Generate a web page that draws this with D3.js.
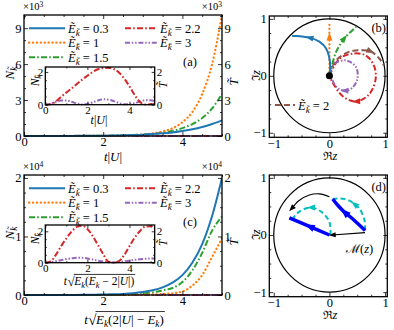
<!DOCTYPE html>
<html><head><meta charset="utf-8">
<script src="https://cdn.jsdelivr.net/npm/d3@7"></script>
<style>body{margin:0;background:#fff} svg{display:block} text{font-family:"Liberation Serif",serif;fill:#000}</style>
</head><body><svg id="fig" width="394" height="330"></svg>
<script>
// time grids
const tMain = [0,0.25,0.5,0.75,1,1.25,1.5,1.75,2,2.25,2.5,2.75,3,3.25,3.5,3.75,4,4.25,4.5,4.75,5]
const tIn = [0,0.25,0.5,0.75,1,1.25,1.5,1.75,2,2.25,2.5,2.75,3,3.25,3.5,3.75,4,4.25,4.5,4.75,5,5.25]

// (a) N vs t|U|
const blueA = [0,1,3,5,7,10,14,20,28,40,55,80,110,160,220,300,420,560,750,1000,1300]
const orangeA = [0,0,0,0,1,2,4,7,13,22,39,68,120,210,370,650,1150,2000,3500,6000,10100]
const greenA = [0,0,1,2,4,6,9,14,21,33,50,78,120,180,280,430,660,1000,1500,2300,3500]
const redInA = [0,0.02,0.2,0.48,0.74,0.99,1.26,1.53,1.77,2.0,2.16,2.24,2.25,2.18,1.97,1.6,1.12,0.59,0.16,0.01,0.02,0.06]
const purpleInA = [0,0.06,0.18,0.26,0.26,0.18,0.07,0.01,0.04,0.14,0.26,0.33,0.31,0.22,0.1,0.02,0.02,0.09,0.2,0.27,0.27,0.2]

// (c) N vs t sqrt(E(2|U|-E))
const blueC = [0,1,2,5,10,15,25,40,70,110,180,300,500,800,1300,2100,3400,5500,8700,13500,20000]
const orangeC = [0,0,0,0,0,0,1,2,4,8,15,28,50,90,160,300,600,1600,3400,6500,9700]
const greenC = [0,0,0,1,2,4,8,14,25,45,80,140,250,450,800,1200,2200,4200,7200,11000,13400]
const redInC = [0,0.08,0.5,1.05,1.55,1.98,2.28,2.35,2.15,1.7,1.14,0.55,0.06,0,0.1,0.48,1.05,1.6,2.02,2.3,2.32,2.1]
const purpleInC = [0,0.03,0.09,0.16,0.23,0.28,0.31,0.31,0.27,0.2,0.13,0.07,0.03,0.02,0.04,0.08,0.13,0.18,0.22,0.25,0.27,0.27]

const legendVals = ['0.3', '1', '1.5', '2.2', '3']

// ticks
const tTicks = [0, 2, 4], tMinor = [0.5,1,1.5,2.5,3,3.5,4.5,5]
const aYTicks = [0,3000,6000,9000], aYMinor = [1000,2000,4000,5000,7000,8000,10000]
const cYTicks = [0,10000,20000], cYMinor = [2500,5000,7500,12500,15000,17500]
const inXTicks = [0,2,4], inXMinor = [1,3,5]
const inYTicks = [0,2], inYMinor = [0.5,1,1.5]
const zTicks = [-1,0,1], zMinor = [-0.75,-0.5,-0.25,0.25,0.5,0.75]

// (b) trajectories of z
const bBlue = [[0,0],[0.01,0.24],[-0.06,0.48],[-0.18,0.6],[-0.36,0.67],[-0.6,0.7],[-0.67,0.7]]
const bOrange = [[0,0],[0,0.35],[0,0.69],[0,0.92]]
const bGreen = [[0,0],[0.05,0.2],[0.12,0.42],[0.2,0.56],[0.27,0.66],[0.36,0.75],[0.48,0.86]]
const bBrown = [[0,0],[0.05,0.15],[0.15,0.3],[0.35,0.42],[0.55,0.45],[0.74,0.43],[0.9,0.3],[0.98,0.18]]
const bRed = [[0,0],[0.18,0.3],[0.42,0.39],[0.65,0.36],[0.8,0.18],[0.83,-0.06],[0.71,-0.33],[0.48,-0.45],[0.24,-0.36],[0.06,-0.12],[0,0]]
const bPurple = [[0,0],[0.09,0.21],[0.3,0.27],[0.48,0.15],[0.5,-0.06],[0.4,-0.22],[0.27,-0.26],[0.14,-0.21],[0.03,-0.03]]

// (d)
const dBlue1 = [[0,0],[-0.36,0.15],[-0.72,0.3]]
const dBlue2 = [[0.64,0.08],[0.42,0.28],[0.27,0.4],[0.15,0.52],[0.06,0.63]]
const dCyan1 = [[0.02,0],[0,0.23],[-0.15,0.41],[-0.33,0.48],[-0.54,0.41],[-0.68,0.26]]
const dCyan2 = [[0.64,0.08],[0.63,0.26],[0.54,0.46],[0.45,0.54],[0.36,0.6],[0.2,0.64],[0.06,0.63]]
const dBlackCurve = [[0,0.67],[-0.18,0.72],[-0.36,0.7],[-0.55,0.6],[-0.68,0.46]]
const dBlackLine = [[0.64,0.04],[0.05,0]]

const C = {blue:'#1f77b4', orange:'#ff7f0e', green:'#2ca02c', red:'#d62728', purple:'#9467bd', brown:'#8c564b'}
const DASH = {solid:null, dot:'0.3,3.6', dashdot:'6,2.2,1.6,2.2', dashdotdot:'5,1.8,1.5,1.8,1.5,1.8', dashed:'6,3'}
const styles = [
  {c:C.blue, d:'solid'}, {c:C.orange, d:'dot'}, {c:C.green, d:'dashdot'},
  {c:C.red, d:'dashdot'}, {c:C.purple, d:'dashdotdot'}
]

const svg = d3.select('#fig')
svg.append('rect').attr('width', 394).attr('height', 330).attr('fill', '#fff')
let clipN = 0

function mtext(sel, parts, fs) {
  let shift = 0
  parts.forEach(([s, st]) => {
    const sp = sel.append('tspan').text(s)
    const want = st.includes('s') ? fs * 0.25 : st.includes('^') ? -fs * 0.33 : 0
    sp.attr('dy', want - shift); shift = want
    if (st.includes('i')) sp.attr('font-style', 'italic')
    if (st.includes('s') || st.includes('^')) sp.attr('font-size', fs * 0.72)
    if (st.includes('D')) sp.attr('font-family', 'DejaVu Serif').attr('font-size', fs * 0.92)
  })
  return sel
}

function axisSet(g, x, y, o) {
  const [xl, xr] = x.range(), [yb, yt] = y.range()
  const add = (mk, sc, vals, len, fmt, tr, pad) => {
    const a = g.append('g').attr('transform', tr)
      .call(mk(sc).tickValues(vals).tickSize(-len).tickPadding(pad).tickFormat(fmt || (() => '')))
    a.select('.domain').remove()
    a.selectAll('line').attr('stroke', '#000').attr('stroke-width', 0.8)
    a.selectAll('text').attr('fill', '#000').attr('font-size', o.fs).attr('font-family', 'Liberation Serif, serif')
  }
  add(d3.axisBottom, x, o.xMaj, o.L, o.xFmt, `translate(0,${yb})`, o.pad - 1)
  add(d3.axisBottom, x, o.xMin, o.L / 2, null, `translate(0,${yb})`, 0)
  add(d3.axisTop, x, o.xMaj, o.L, null, `translate(0,${yt})`, 0)
  add(d3.axisTop, x, o.xMin, o.L / 2, null, `translate(0,${yt})`, 0)
  add(d3.axisLeft, y, o.yMaj, o.L, o.yFmt, `translate(${xl},0)`, o.pad)
  add(d3.axisLeft, y, o.yMin, o.L / 2, null, `translate(${xl},0)`, 0)
  add(d3.axisRight, y, o.yMaj, o.L, o.right ? o.yFmt : null, `translate(${xr},0)`, o.pad)
  add(d3.axisRight, y, o.yMin, o.L / 2, null, `translate(${xr},0)`, 0)
  g.append('rect').attr('x', xl).attr('y', yt).attr('width', xr - xl).attr('height', yb - yt)
    .attr('fill', 'none').attr('stroke', '#000').attr('stroke-width', 1.3)
}

function clipFor(x, y) {
  const id = 'clip' + (clipN++)
  const [xl, xr] = x.range(), [yb, yt] = y.range()
  svg.append('clipPath').attr('id', id).append('rect')
    .attr('x', xl).attr('y', yt - 1).attr('width', xr - xl).attr('height', yb - yt + 2)
  return id
}

function series(g, x, y, xs, ys, st, lw, clip) {
  g.append('path').datum(xs.map((t, i) => [t, ys[i]]))
    .attr('d', d3.line().x(d => x(d[0])).y(d => y(d[1])).curve(d3.curveMonotoneX))
    .attr('fill', 'none').attr('stroke', st.c).attr('stroke-width', lw)
    .attr('stroke-dasharray', DASH[st.d]).attr('stroke-linecap', st.d === 'dot' ? 'round' : 'butt')
    .attr('clip-path', `url(#${clip})`)
}

function eLabel(g, x, y, val, fs) {
  mtext(g.append('text').attr('x', x).attr('y', y).attr('font-size', fs),
    [['Ẽ', 'i'], ['k\u0303', 'is'], [' = ' + val, '']], fs)
}

function rotLabel(g, x, y, parts, fs, ang) {
  mtext(g.append('text').attr('transform', `translate(${x},${y}) rotate(${ang || -90})`)
    .attr('text-anchor', 'middle').attr('font-size', fs), parts, fs)
}

function sqrtLabel(g, cx, y, rad, fs) {
  const grp = g.append('g')
  const t1 = mtext(grp.append('text').attr('x', 0).attr('y', y).attr('font-size', fs), [['t', 'i']], fs)
  let w = t1.node().getComputedTextLength() + 0.5
  const t2 = grp.append('text').attr('x', w).attr('y', y + 1).attr('font-size', fs * 1.15).attr('font-family', 'DejaVu Serif').text('√')
  w += t2.node().getComputedTextLength() - 0.5
  const t3 = mtext(grp.append('text').attr('x', w).attr('y', y).attr('font-size', fs), rad, fs)
  const w3 = t3.node().getComputedTextLength()
  grp.append('line').attr('x1', w - 0.5).attr('x2', w + w3 + 1).attr('y1', y - fs * 0.92).attr('y2', y - fs * 0.92)
    .attr('stroke', '#000').attr('stroke-width', 0.8)
  grp.attr('transform', `translate(${cx - (w + w3) / 2},0)`)
}

function timePanel(o) {
  const g = svg.append('g')
  const x = d3.scaleLinear().domain([0, 5]).range([24, 222])
  const y = d3.scaleLinear().domain([0, o.ymax]).range([o.yb, o.yt])
  const clip = clipFor(x, y)
  // red / purple stay near zero on this scale
  series(g, x, y, tIn, o.redIn, styles[3], 2, clip)
  series(g, x, y, tIn, o.purpleIn, styles[4], 2, clip)
  series(g, x, y, tMain, o.green, styles[2], 2, clip)
  series(g, x, y, tMain, o.orange, styles[1], 2.2, clip)
  series(g, x, y, tMain, o.blue, styles[0], 2, clip)
  const fmt = d => String(d / o.unit)
  axisSet(g, x, y, {xMaj: tTicks, xMin: tMinor, yMaj: o.yTicks, yMin: o.yMinor, xFmt: d => d, yFmt: fmt, right: true, L: 4, pad: 2.5, fs: 12.5})
  // exponent labels
  mtext(g.append('text').attr('x', 23).attr('y', o.yt - 5).attr('font-size', 10.5), [['×10', ''], [o.exp, '^']], 10.5)
  mtext(g.append('text').attr('x', 222).attr('y', o.yt - 5).attr('font-size', 10.5).attr('text-anchor', 'end'), [['×10', ''], [o.exp, '^']], 10.5)
  rotLabel(g, 14, o.yt + 58, [['N', 'i'], ['k\u0303', 'is']], 13)
  rotLabel(g, 238, o.yt + 67, [['T\u0303', 'i']], 13)
  // legend
  const rows = [o.yt + 13.3, o.yt + 27.7, o.yt + 42.3]
  const slots = [[29, 65, 68, rows[0]], [29, 65, 68, rows[1]], [29, 65, 68, rows[2]], [125, 157, 160, rows[0]], [125, 157, 160, rows[1]]]
  slots.forEach((s, i) => {
    g.append('line').attr('x1', s[0]).attr('x2', s[1]).attr('y1', s[3]).attr('y2', s[3])
      .attr('stroke', styles[i].c).attr('stroke-width', i === 1 ? 2.2 : 2)
      .attr('stroke-dasharray', DASH[styles[i].d]).attr('stroke-linecap', styles[i].d === 'dot' ? 'round' : 'butt')
    eLabel(g, s[2], s[3] + 4.5, legendVals[i], 12.5)
  })
  g.append('text').attr('x', 183).attr('y', o.yt + 51).attr('font-size', 12.5).text(o.tag)
  // inset
  const xi = d3.scaleLinear().domain([0, 5.2]).range([45.3, 154.7])
  const yi = d3.scaleLinear().domain([0, o.inMax]).range([o.inB, o.inB - 37.7])
  g.append('rect').attr('x', 45.3).attr('y', o.inB - 37.7).attr('width', 109.4).attr('height', 37.7).attr('fill', '#fff')
  const ic = clipFor(xi, yi)
  series(g, xi, yi, tIn, o.purpleIn, styles[4], 2, ic)
  series(g, xi, yi, tIn, o.redIn, styles[3], 2, ic)
  axisSet(g, xi, yi, {xMaj: inXTicks, xMin: inXMinor, yMaj: inYTicks, yMin: inYMinor, xFmt: d => d, yFmt: d => d, right: true, L: 3, pad: 2, fs: 11})
  rotLabel(g, 38.5, o.inB - 24, [['N', 'i'], ['k\u0303', 'is']], 11.5)
  rotLabel(g, 167, o.inB - 20, [['T\u0303', 'i']], 11.5)
  o.inLabel(g)
  o.xLabel(g)
  return g
}

timePanel({yt: 15, yb: 136, ymax: 10100, unit: 1000, exp: '3', yTicks: aYTicks, yMinor: aYMinor,
  blue: blueA, orange: orangeA, green: greenA, redIn: redInA, purpleIn: purpleInA, tag: '(a)',
  inB: 104.7, inMax: 2.3,
  inLabel: g => mtext(g.append('text').attr('x', 99).attr('y', 124).attr('text-anchor', 'middle').attr('font-size', 12),
    [['t', 'i'], ['|', ''], ['U', 'i'], ['|', '']], 12),
  xLabel: g => mtext(g.append('text').attr('x', 113).attr('y', 160.5).attr('text-anchor', 'middle').attr('font-size', 13),
    [['t', 'i'], ['|', ''], ['U', 'i'], ['|', '']], 13)
})

timePanel({yt: 175, yb: 295, ymax: 20500, unit: 10000, exp: '4', yTicks: cYTicks, yMinor: cYMinor,
  blue: blueC, orange: orangeC, green: greenC, redIn: redInC, purpleIn: purpleInC, tag: '(c)',
  inB: 262.7, inMax: 2.4,
  inLabel: g => sqrtLabel(g, 99, 285, [['E', 'i'], ['k', 'is'], ['(', ''], ['E', 'i'], ['k', 'is'], [' − 2|', ''], ['U', 'i'], ['|)', '']], 11.5),
  xLabel: g => sqrtLabel(g, 124, 323.5, [['E', 'i'], ['k', 'is'], ['(2|', ''], ['U', 'i'], ['| − ', ''], ['E', 'i'], ['k', 'is'], [')', '']], 13)
})

function arrowHead(g, x, y, pts, i, color, size) {
  const a = pts[Math.max(i - 1, 0)], b = pts[Math.min(i + 1, pts.length - 1)]
  const ang = Math.atan2(y(b[1]) - y(a[1]), x(b[0]) - x(a[0])) * 180 / Math.PI
  g.append('path').attr('d', `M${size},0L${-size},${-size * 0.75}L${-size},${size * 0.75}Z`)
    .attr('transform', `translate(${x(pts[i][0])},${y(pts[i][1])}) rotate(${ang})`).attr('fill', color)
}

function traj(g, x, y, pts, color, da, lw, arrow, size) {
  g.append('path').datum(pts)
    .attr('d', d3.line().x(d => x(d[0])).y(d => y(d[1])).curve(d3.curveCatmullRom.alpha(0.5)))
    .attr('fill', 'none').attr('stroke', color).attr('stroke-width', lw)
    .attr('stroke-dasharray', da).attr('stroke-linecap', da === DASH.dot ? 'round' : 'butt')
  if (arrow != null) arrowHead(g, x, y, pts, arrow, color, size || 4)
}

function diskPanel(yt, yb, tag) {
  const g = svg.append('g')
  const x = d3.scaleLinear().domain([-1.08, 1.04]).range([269.3, 387.3])
  const y = d3.scaleLinear().domain([-1.08, 1.05]).range([yb, yt])
  axisSet(g, x, y, {xMaj: zTicks, xMin: zMinor, yMaj: zTicks, yMin: zMinor, xFmt: d => d < 0 ? '−' + (-d) : d, yFmt: d => d < 0 ? '−' + (-d) : d, right: false, L: 4, pad: 2.5, fs: 12.5})
  g.append('ellipse').attr('cx', x(0)).attr('cy', y(0)).attr('rx', x(1) - x(0)).attr('ry', y(0) - y(1))
    .attr('fill', 'none').attr('stroke', '#000').attr('stroke-width', 1.2)
  g.append('text').attr('x', 386).attr('y', yt + 16).attr('text-anchor', 'end').attr('font-size', 12.5).text(tag)
  mtext(g.append('text').attr('x', 330).attr('y', yb + 22.5).attr('text-anchor', 'middle').attr('font-size', 12.5),
    [['ℜ', 'D'], ['z', 'i']], 12.5)
  rotLabel(g, 260, (yt + yb) / 2 - 1, [['ℑ', 'D'], ['z', 'i']], 12.5)
  return {g, x, y}
}

const pb = diskPanel(16, 137.3, '(b)')
traj(pb.g, pb.x, pb.y, bBrown, C.brown, DASH.dashed, 2, 5)
traj(pb.g, pb.x, pb.y, bRed, C.red, DASH.dashdot, 2, 7)
traj(pb.g, pb.x, pb.y, bPurple, C.purple, DASH.dashdotdot, 2, 6)
traj(pb.g, pb.x, pb.y, bGreen, C.green, DASH.dashdot, 2, 4)
traj(pb.g, pb.x, pb.y, bOrange, C.orange, DASH.dot, 2.2, 2)
traj(pb.g, pb.x, pb.y, bBlue, C.blue, null, 2, 4)
pb.g.append('circle').attr('cx', pb.x(0)).attr('cy', pb.y(0)).attr('r', 3.5).attr('fill', '#000')
pb.g.append('line').attr('x1', 275).attr('x2', 295).attr('y1', 105).attr('y2', 105)
  .attr('stroke', C.brown).attr('stroke-width', 2).attr('stroke-dasharray', DASH.dashed)
eLabel(pb.g, 298, 109.5, '2', 12.5)

const pd = diskPanel(175, 296.7, '(d)')
traj(pd.g, pd.x, pd.y, dCyan1, '#00bfbf', '5,3', 2, 3)
traj(pd.g, pd.x, pd.y, dCyan2, '#00bfbf', '5,3', 2, 3)
traj(pd.g, pd.x, pd.y, dBlue1, '#0000ff', null, 3.5, 1, 5)
traj(pd.g, pd.x, pd.y, dBlue2, '#0000ff', null, 3.5, 2, 5)
traj(pd.g, pd.x, pd.y, dBlackCurve, '#000', null, 1.2, 4, 3.5)
traj(pd.g, pd.x, pd.y, dBlackLine, '#000', null, 1.2, 1, 3.5)
mtext(pd.g.append('text').attr('x', 346).attr('y', 253).attr('font-size', 12.5), [['ℳ', ''], ['(', ''], ['z', 'i'], [')', '']], 12.5)
</script></body></html>
